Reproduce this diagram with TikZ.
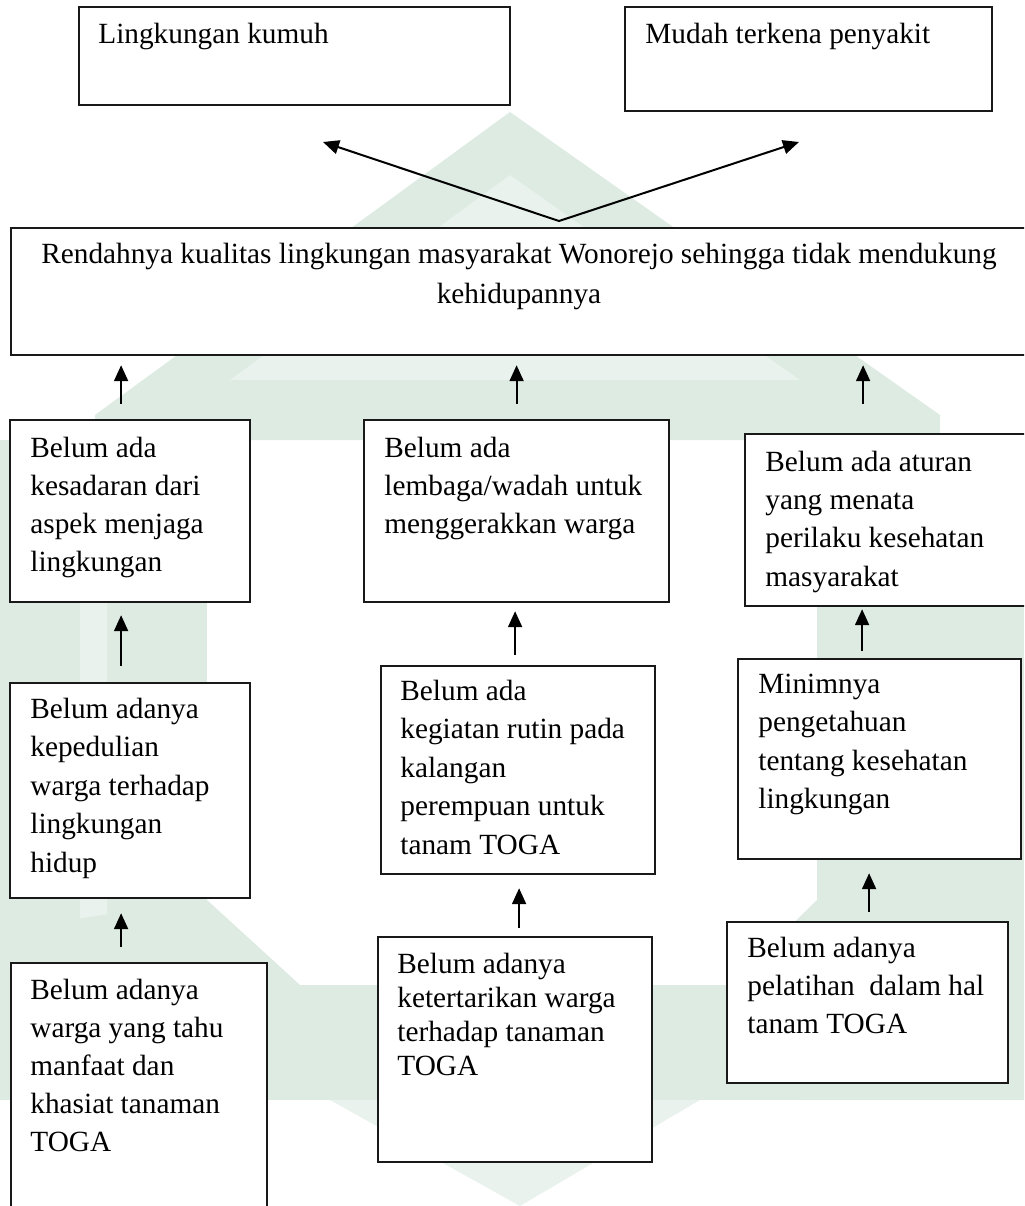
\documentclass[tikz,border=0pt]{standalone}
\usepackage{fontspec}
\setmainfont{Liberation Serif}
\usetikzlibrary{arrows.meta,calc}
\definecolor{wmg}{RGB}{221,235,226}
\definecolor{wml}{RGB}{233,242,236}
\newcommand\blines[2]{\vtop{\baselineskip=#1\relax\halign{##\hfil\cr#2\crcr}}}
\newcommand\clines[2]{\vtop{\baselineskip=#1\relax\halign{\hfil##\hfil\cr#2\crcr}}}
\begin{document}
\begin{tikzpicture}[x=0.5pt,y=-0.5pt,
  boxst/.style={draw=black!90, line width=1.1pt, fill=white, inner sep=0pt, anchor=north west},
  txt/.style={inner sep=0pt, anchor=base west, font=\fontsize{14.65pt}{19pt}\selectfont},
  arr/.style={-{Triangle[length=8pt,width=7pt]}, line width=1pt}]
\useasboundingbox (0,0) rectangle (1024,1206);
\clip (0,0) rectangle (1024,1206);
% faint watermark
\fill[wmg] (510,112) -- (940,415) -- (940,440) -- (95,440) -- (95,415) -- cycle;
\fill[wml] (510,175) -- (800,380) -- (230,380) -- cycle;
\fill[wmg] (0,440) rectangle (207,930);
\fill[wml] (80,440) rectangle (107,930);
\fill[wmg] (817,440) rectangle (1024,930);
\fill[wmg] (207,900) -- (300,985) -- (230,1100) -- (0,1100) -- (0,930) -- cycle;
\fill[wmg] (817,900) -- (730,985) -- (800,1100) -- (1024,1100) -- (1024,930) -- cycle;
\fill[wmg] (230,985) rectangle (915,1100);
\fill[wml] (330,1100) -- (700,1100) -- (520,1206) -- cycle;
% boxes
\node[boxst, minimum width=215.5pt, minimum height=49pt] (T1) at (78,6) {};
\node[boxst, minimum width=183.5pt, minimum height=52pt] (T2) at (624,6) {};
\node[boxst, minimum width=520pt, minimum height=63.5pt] (big) at (10,227) {};
\node[boxst, minimum width=120pt, minimum height=91pt] (L1) at (9,419) {};
\node[boxst, minimum width=152.5pt, minimum height=91pt] (M1) at (363,419) {};
\node[boxst, minimum width=150pt, minimum height=86pt] (R1) at (744,433) {};
\node[boxst, minimum width=120pt, minimum height=107.5pt] (L2) at (9,682) {};
\node[boxst, minimum width=137pt, minimum height=104pt] (M2) at (380,665) {};
\node[boxst, minimum width=141.5pt, minimum height=100pt] (R2) at (737,658) {};
\node[boxst, minimum width=128pt, minimum height=140pt] (L3) at (10,962) {};
\node[boxst, minimum width=137pt, minimum height=112.5pt] (M3) at (377,936) {};
\node[boxst, minimum width=140.5pt, minimum height=80.5pt] (R3) at (726,921) {};
% texts
\node[txt] (tT1) at (98,43) {Lingkungan kumuh};
\node[txt] (tT2) at (645,43) {Mudah terkena penyakit};
\node[txt, anchor=base] (tbig) at (519,263) {\clines{20pt}{Rendahnya kualitas lingkungan masyarakat Wonorejo sehingga tidak mendukung\cr kehidupannya}};
\node[txt] (tL1) at (30,457) {\blines{19pt}{Belum ada\cr kesadaran dari\cr aspek menjaga\cr lingkungan}};
\node[txt] (tM1) at (384,457) {\blines{19pt}{Belum ada\cr lembaga/wadah untuk\cr menggerakkan warga}};
\node[txt] (tR1) at (765,471) {\blines{19.2pt}{Belum ada aturan\cr yang menata\cr perilaku kesehatan\cr masyarakat}};
\node[txt] (tL2) at (30,718) {\blines{19.25pt}{Belum adanya\cr kepedulian\cr warga terhadap\cr lingkungan\cr hidup}};
\node[txt] (tM2) at (400,700) {\blines{19.3pt}{Belum ada\cr kegiatan rutin pada\cr kalangan\cr perempuan untuk\cr tanam TOGA}};
\node[txt] (tR2) at (758,693) {\blines{19.3pt}{Minimnya\cr pengetahuan\cr tentang kesehatan\cr lingkungan}};
\node[txt] (tL3) at (30,999) {\blines{19pt}{Belum adanya\cr warga yang tahu\cr manfaat dan\cr khasiat tanaman\cr TOGA}};
\node[txt] (tM3) at (397,973) {\blines{17pt}{Belum adanya\cr ketertarikan warga\cr terhadap tanaman\cr TOGA}};
\node[txt] (tR3) at (747,957) {\blines{19.2pt}{Belum adanya\cr pelatihan\ \ dalam hal\cr tanam TOGA}};
% diagonal arrows
\coordinate (apex) at (559,221);
\coordinate (tipL) at (323,142);
\coordinate (tipR) at (799,142);
\draw[arr] (apex) -- (tipL);
\draw[arr] (apex) -- (tipR);
% row 1 arrows
\draw[arr] ($(L1.north)+(-9,-15)$) -- ($(L1.north |- big.south)+(-9,9)$);
\draw[arr] ($(M1.north)+(0,-15)$) -- ($(M1.north |- big.south)+(0,9)$);
\draw[arr] ($(R1.north)+(-32,-29)$) -- ($(R1.north |- big.south)+(-32,9)$);
% row 2 arrows
\draw[arr] ($(L2.north)+(-9,-16)$) -- ($(L2.north |- L1.south)+(-9,12)$);
\draw[arr] ($(M2.north)+(-3,-10)$) -- ($(M2.north |- M1.south)+(-3,8)$);
\draw[arr] ($(R2.north)+(-17.5,-7)$) -- ($(R2.north |- R1.south)+(-17.5,2)$);
% row 3 arrows
\draw[arr] ($(L3.north)+(-18,-15)$) -- ($(L3.north |- L2.south)+(-18,14)$);
\draw[arr] ($(M3.north)+(4,-8)$) -- ($(M3.north |- M2.south)+(4,13)$);
\draw[arr] ($(R3.north)+(1.5,-9)$) -- ($(R3.north |- R2.south)+(1.5,13)$);
\end{tikzpicture}
\end{document}
